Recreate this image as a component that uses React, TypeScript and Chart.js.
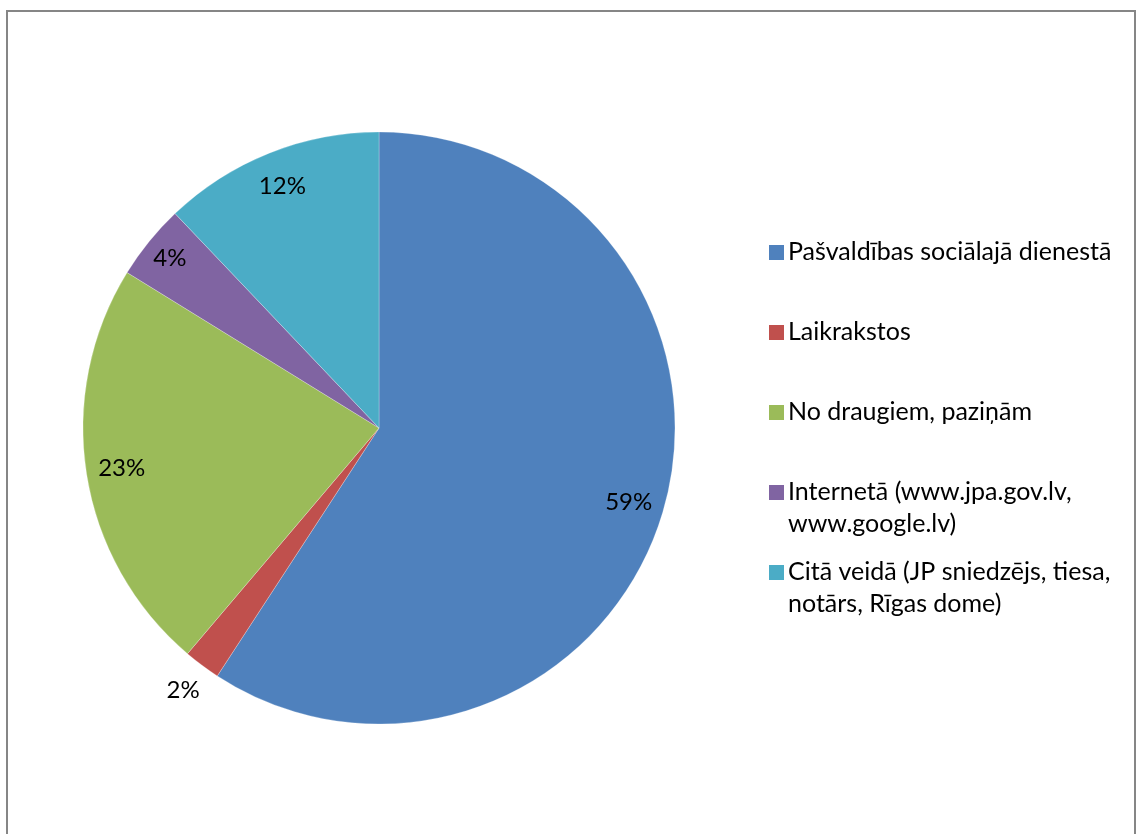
import React, { useEffect, useRef } from "react";
import { Chart, registerables } from "chart.js";

Chart.register(...registerables);

const categories: string[] = [
  "Pašvaldības sociālajā dienestā",
  "Laikrakstos",
  "No draugiem, paziņām",
  "Internetā (www.jpa.gov.lv, www.google.lv)",
  "Citā veidā (JP sniedzējs, tiesa, notārs, Rīgas dome)",
];
const shares: number[] = [59.2, 2.0, 22.6, 4.1, 12.1];
const colors: string[] = ["#4F81BD", "#C0504D", "#9BBB59", "#8064A2", "#4BACC6"];

const FONT_FAMILY = "Lato, 'Open Sans', sans-serif";
const LEGEND_FONT_SIZE = 25;
const LABEL_FONT_SIZE = 24;

const CANVAS_W = 1126;
const CANVAS_H = 812;

function wrapText(ctx: CanvasRenderingContext2D, text: string, maxWidth: number): string[] {
  const words = text.split(" ");
  const lines: string[] = [];
  let cur = "";
  for (const w of words) {
    const test = cur ? cur + " " + w : w;
    if (ctx.measureText(test).width > maxWidth && cur) {
      lines.push(cur);
      cur = w;
    } else {
      cur = test;
    }
  }
  if (cur) lines.push(cur);
  return lines;
}

const pieLabelsPlugin = {
  id: "pieLabels",
  afterDatasetsDraw(chart: any) {
    const ctx: CanvasRenderingContext2D = chart.ctx;
    const meta = chart.getDatasetMeta(0);
    const data: number[] = chart.data.datasets[0].data;
    const total = data.reduce((a, b) => a + b, 0);
    ctx.save();
    ctx.font = `${LABEL_FONT_SIZE}px ${FONT_FAMILY}`;
    ctx.fillStyle = "#000";
    ctx.textAlign = "center";
    ctx.textBaseline = "middle";
    meta.data.forEach((arc: any, i: number) => {
      const p = arc.getProps(["x", "y", "startAngle", "endAngle", "outerRadius"], true);
      const mid = (p.startAngle + p.endAngle) / 2;
      const frac = data[i] / total;
      const k = frac < 0.03 ? 1.107 : frac < 0.06 ? 0.91 : 0.88;
      const r = p.outerRadius * k;
      const x = p.x + Math.cos(mid) * r;
      const y = p.y + Math.sin(mid) * r;
      ctx.fillText(Math.round(frac * 100) + "%", x, y);
    });
    ctx.restore();
  },
};

const legendPlugin = {
  id: "customLegend",
  afterDraw(chart: any) {
    const ctx: CanvasRenderingContext2D = chart.ctx;
    const labels: string[] = chart.data.labels;
    const bg: string[] = chart.data.datasets[0].backgroundColor;
    const area = chart.chartArea;
    const boxX = area.right + 94;
    const textX = boxX + 19;
    const rowStart = area.top + 120;
    const rowStep = 80;
    const lineH = 32;
    ctx.save();
    ctx.font = `${LEGEND_FONT_SIZE}px ${FONT_FAMILY}`;
    ctx.textBaseline = "middle";
    ctx.textAlign = "left";
    labels.forEach((lab, i) => {
      const y = rowStart + i * rowStep;
      ctx.fillStyle = bg[i];
      ctx.fillRect(boxX, y - 7, 15, 15);
      ctx.fillStyle = "#000";
      const lines = wrapText(ctx, lab, 345);
      lines.forEach((ln, j) => ctx.fillText(ln, textX, y + j * lineH));
    });
    ctx.restore();
  },
};

export default function App() {
  const ref = useRef<HTMLCanvasElement | null>(null);
  useEffect(() => {
    if (!ref.current) return;
    const chart = new Chart(ref.current, {
      type: "pie",
      data: {
        labels: categories,
        datasets: [
          {
            data: shares,
            backgroundColor: colors,
            borderColor: "rgba(255,255,255,0.5)",
            borderWidth: 0.5,
            radius: 296,
          } as any,
        ],
      },
      options: {
        responsive: false,
        maintainAspectRatio: false,
        animation: false,
        devicePixelRatio: 1,
        layout: { padding: { left: 75, top: 120, right: 459, bottom: 100 } },
        plugins: {
          legend: { display: false },
          tooltip: { enabled: false },
          title: { display: false },
        },
      },
      plugins: [pieLabelsPlugin, legendPlugin],
    });
    return () => chart.destroy();
  }, []);
  return (
    <div
      style={{
        position: "fixed",
        left: 6,
        top: 10,
        width: 1130,
        height: 840,
        boxSizing: "border-box",
        borderTop: "2px solid #868686",
        borderLeft: "2px solid #868686",
        borderRight: "2px solid #868686",
        background: "#fff",
        overflow: "hidden",
      }}
    >
      <canvas
        ref={ref}
        width={CANVAS_W}
        height={CANVAS_H}
        style={{ display: "block", width: CANVAS_W, height: CANVAS_H }}
      />
    </div>
  );
}
